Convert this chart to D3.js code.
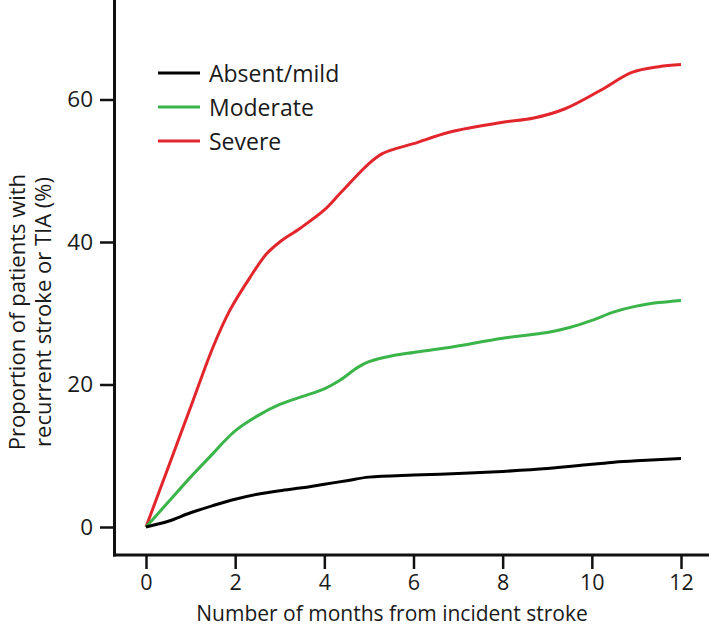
<!DOCTYPE html>
<html><head><meta charset="utf-8">
<script src="https://cdn.jsdelivr.net/npm/d3@7"></script>
<style>body{margin:0;background:#fff;} svg{display:block;} text{font-family:"Open Sans",sans-serif;fill:#1a1a1a;}</style>
</head><body>
<svg id="c" width="709" height="627"></svg>
<script>
const seriesNames = ["Absent/mild", "Moderate", "Severe"];
const seriesColors = ["#000000", "#3bb44a", "#e2262c"];
const absentMonths = [0, 0.5, 1, 1.5, 2, 2.5, 3, 3.5, 4, 4.5, 5, 6, 7, 8, 9, 10, 10.5, 11, 12];
const absentValues = [0, 0.8, 2.0, 3.0, 3.9, 4.6, 5.1, 5.5, 6.0, 6.5, 7.0, 7.3, 7.5, 7.8, 8.2, 8.8, 9.1, 9.3, 9.6];
const moderateMonths = [0, 0.5, 1, 1.5, 1.75, 2, 2.5, 3, 3.5, 4, 4.35, 4.75, 5, 5.5, 6, 6.8, 8, 9, 9.5, 10, 10.5, 11, 11.5, 12];
const moderateValues = [0, 3.5, 7.0, 10.3, 12.0, 13.5, 15.6, 17.2, 18.3, 19.4, 20.6, 22.4, 23.2, 24.0, 24.5, 25.2, 26.5, 27.3, 28.0, 29.0, 30.2, 31.0, 31.5, 31.8];
const severeMonths = [0, 0.5, 1, 1.5, 1.88, 2.33, 2.7, 3.0, 3.45, 4, 4.35, 5, 5.3, 5.6, 6, 6.8, 8, 8.7, 9.4, 10.2, 10.9, 11.5, 12];
const severeValues = [0, 8.4, 16.8, 25.2, 30.4, 35.0, 38.3, 40.0, 41.9, 44.5, 46.8, 51.0, 52.4, 53.1, 53.8, 55.4, 56.8, 57.4, 58.7, 61.3, 63.8, 64.6, 64.9];
const xTicks = [0, 2, 4, 6, 8, 10, 12];
const yTicks = [0, 20, 40, 60];
const xTitle = "Number of months from incident stroke";
const yTitleLines = ["Proportion of patients with", "recurrent stroke or TIA (%)"];

const svg = d3.select("#c");
const x = d3.scaleLinear().domain([0, 12]).range([146, 681]);
const y = d3.scaleLinear().domain([0, 60]).range([527, 99.5]);
const axisColor = "#111";
const axisY = 555;

// axes lines
svg.append("line").attr("x1", 114.5).attr("x2", 114.5).attr("y1", 0).attr("y2", axisY + 1.5)
  .attr("stroke", axisColor).attr("stroke-width", 3);
svg.append("line").attr("x1", 113).attr("x2", 709).attr("y1", axisY).attr("y2", axisY)
  .attr("stroke", axisColor).attr("stroke-width", 3);

// x axis ticks
const xAxis = d3.axisBottom(x).tickValues(xTicks).tickSize(14).tickPadding(6).tickFormat(d3.format("d"));
const gx = svg.append("g").attr("transform", `translate(0,${axisY})`).call(xAxis);
gx.select(".domain").remove();
gx.selectAll(".tick line").attr("stroke", axisColor).attr("stroke-width", 2.5);
gx.selectAll(".tick text").attr("font-size", 21.5).attr("font-family", "Open Sans, sans-serif").attr("fill", "#1a1a1a");

// y axis ticks
const yAxis = d3.axisLeft(y).tickValues(yTicks).tickSize(14).tickPadding(7).tickFormat(d3.format("d"));
const gy = svg.append("g").attr("transform", "translate(114,0)").call(yAxis);
gy.select(".domain").remove();
gy.selectAll(".tick line").attr("stroke", axisColor).attr("stroke-width", 2.5);
gy.selectAll(".tick text").attr("font-size", 22.5).attr("font-family", "Open Sans, sans-serif").attr("fill", "#1a1a1a");

// titles
svg.append("text").attr("x", 392).attr("y", 621).attr("text-anchor", "middle")
  .attr("font-size", 21).text(xTitle);
const yt = svg.append("text").attr("transform", "translate(25,312) rotate(-90)")
  .attr("text-anchor", "middle").attr("font-size", 22);
yTitleLines.forEach((t, i) => yt.append("tspan").attr("x", 0).attr("dy", i === 0 ? 0 : 26).text(t));

// lines
const data = [
  absentMonths.map((m, i) => [m, absentValues[i]]),
  moderateMonths.map((m, i) => [m, moderateValues[i]]),
  severeMonths.map((m, i) => [m, severeValues[i]])
];
const line = d3.line().x(d => x(d[0])).y(d => y(d[1])).curve(d3.curveCatmullRom.alpha(0.5));
[2, 1, 0].forEach(i => {
  svg.append("path").datum(data[i]).attr("d", line).attr("fill", "none")
    .attr("stroke", seriesColors[i]).attr("stroke-width", 3).attr("stroke-linejoin", "round");
});

// legend
const legY = [73, 107, 141];
seriesNames.forEach((n, i) => {
  svg.append("line").attr("x1", 158).attr("x2", 200).attr("y1", legY[i]).attr("y2", legY[i])
    .attr("stroke", seriesColors[i]).attr("stroke-width", 3);
  svg.append("text").attr("x", 209).attr("y", legY[i] + 9).attr("font-size", 23).text(n);
});
</script>
</body></html>
